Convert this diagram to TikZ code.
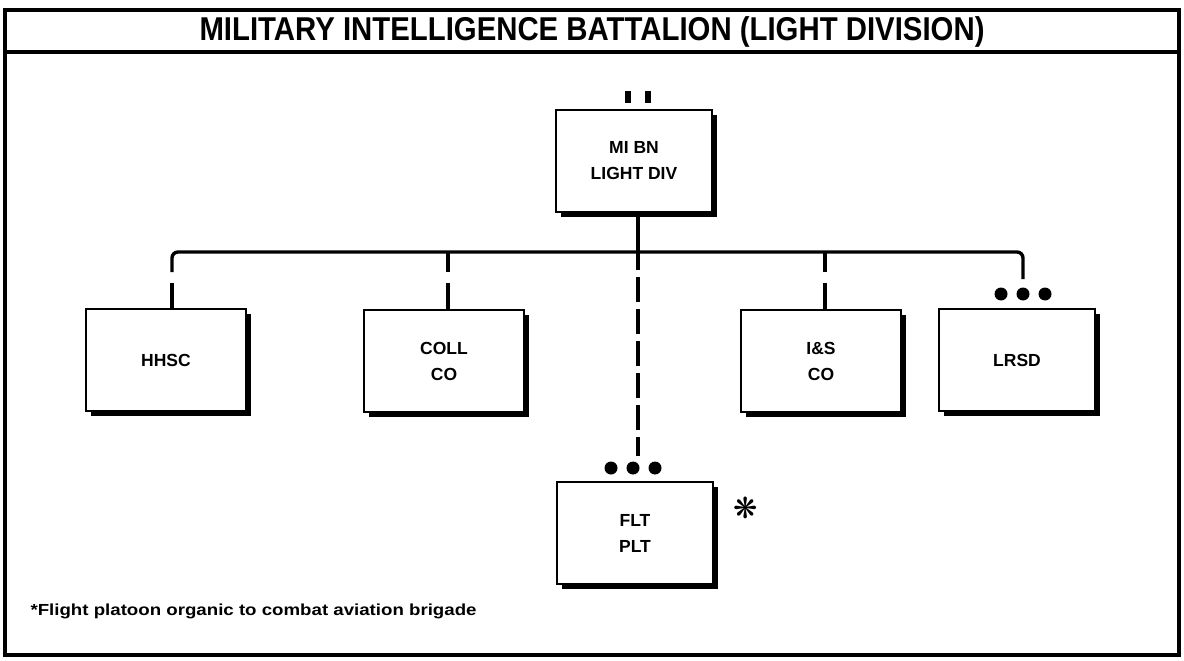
\documentclass[tikz,border=0pt]{standalone}
\usepackage{fontspec}
\usepackage{graphicx}
\setmainfont{Liberation Sans}
\newfontfamily\symfont{DejaVu Sans}
\usetikzlibrary{shadows,calc}
\begin{document}
\begin{tikzpicture}[x=1pt,y=-1pt,
  frame/.style={line width=3.2pt},
  unit/.style={draw,line width=2pt,fill=white,minimum width=156pt,minimum height=102pt,
    align=center,font=\bfseries\fontsize{17.5}{26}\selectfont,inner sep=2pt,
    drop shadow={shadow xshift=4.5pt,shadow yshift=-4.5pt,fill=black,opacity=1}},
  link/.style={line width=3.4pt},
  gapped/.style={link,dash pattern=on 20pt off 11pt on 60pt off 0pt},
  dotrow/.style={minimum width=56pt,minimum height=14pt,inner sep=0pt},
  flt/.style={link,dash pattern=on 18pt off 7pt on 25pt off 7pt on 25pt off 7pt on 25pt off 7pt on 25pt off 7pt on 25pt off 7pt on 25pt off 7pt}
]
\useasboundingbox (0,0) rectangle (1184,661);
% frame and title
\draw[frame] (5,10) rectangle (1179,655);
\draw[frame] (5,52) -- (1179,52);
\node (title) at (592,32) {\resizebox{785pt}{\height}{\bfseries\fontsize{33}{34}\selectfont MILITARY INTELLIGENCE BATTALION (LIGHT DIVISION)}};
% units
\node[unit] (mi) at (634,161) {MI BN\\LIGHT DIV};
\node[unit,minimum width=160pt] (hhsc) at (166,360) {HHSC};
\node[unit,minimum width=160pt] (coll) at (444,361) {COLL\\CO};
\node[unit,minimum width=160pt] (is) at (821,361) {I\&S\\CO};
\node[unit] (lrsd) at (1017,360) {LRSD};
\node[unit] (flt) at (635,533) {FLT\\PLT};
% echelon marks
\fill (625,91) rectangle (631,103);
\fill (645,91) rectangle (651,103);
% dot rows
\node[dotrow] (ld) at (1023,294) {};
\node[dotrow] (fd) at (633,468) {};
\foreach \n in {ld,fd}{\foreach \dx in {-22,0,22}{\fill ($(\n)+(\dx,0)$) circle (6.5pt);}}
% bus
\coordinate (b1) at (172,252);
\coordinate (b2) at (448,252);
\coordinate (bc) at (638,252);
\coordinate (b3) at (825,252);
\coordinate (b4) at (1023,252);
\draw[link] (bc |- mi.south) -- (bc);
\draw[link,rounded corners=6pt] ($(b1)+(0,20)$) -- (b1) -- (b4) -- ($(b4)+(0,27)$);
\draw[link] ($(b1)+(0,31)$) -- (b1 |- hhsc.north);
\draw[gapped] (b2) -- (b2 |- coll.north);
\draw[gapped] (b3) -- (b3 |- is.north);
\draw[flt] (bc) -- ($(bc |- fd.north)+(0,-5)$);
% footnote
\node[font=\symfont\fontsize{29}{29}\selectfont] (ast) at (746,508) {❋};
\node[anchor=west] (note) at (27,611) {\resizebox{446pt}{\height}{\bfseries\fontsize{16}{18}\selectfont *Flight platoon organic to combat aviation brigade}};
\end{tikzpicture}
\end{document}
